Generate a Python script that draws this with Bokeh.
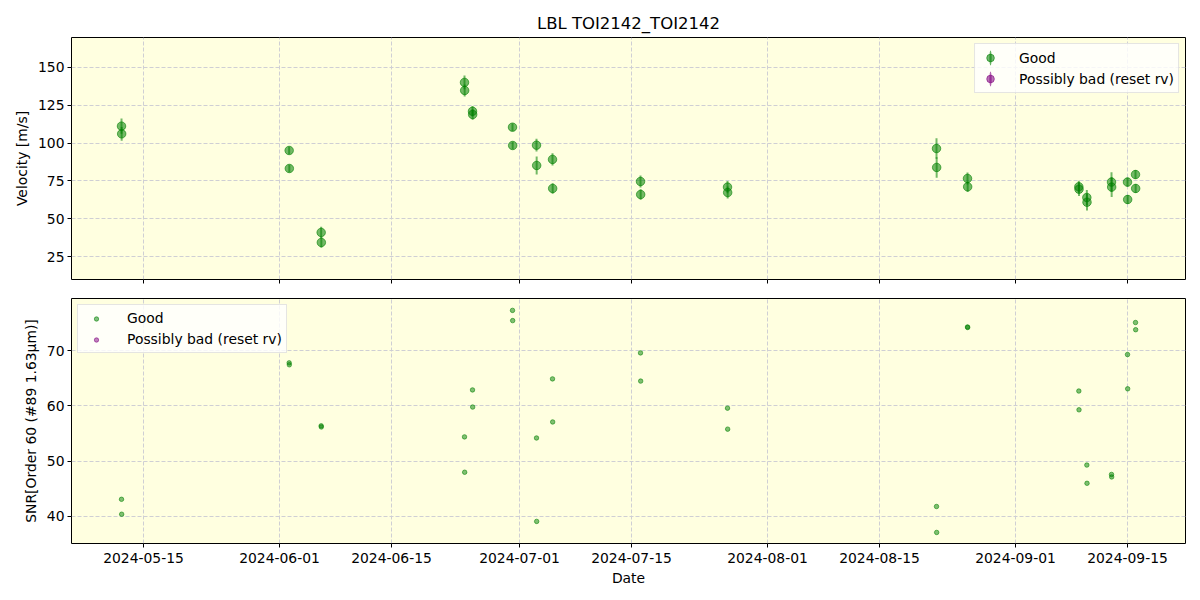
from bokeh.plotting import figure
from bokeh.models import (ColumnDataSource, Range1d, FixedTicker,
                          DatetimeTickFormatter, Legend, LegendItem)
from bokeh.layouts import column
from bokeh.embed import file_html
from bokeh.resources import INLINE
import pandas as pd

# ---------------- data ----------------
obs_time = [
    "2024-05-12 06:00", "2024-05-12 06:30",
    "2024-06-02 05:00", "2024-06-02 05:30",
    "2024-06-06 05:00", "2024-06-06 05:30",
    "2024-06-24 03:00", "2024-06-24 03:30",
    "2024-06-25 03:00", "2024-06-25 03:30",
    "2024-06-30 03:00", "2024-06-30 03:30",
    "2024-07-03 03:00", "2024-07-03 03:30",
    "2024-07-05 03:00", "2024-07-05 03:30",
    "2024-07-16 03:00", "2024-07-16 03:30",
    "2024-07-27 00:00", "2024-07-27 00:30",
    "2024-08-22 03:00", "2024-08-22 03:30",
    "2024-08-26 00:00", "2024-08-26 00:30",
    "2024-09-08 22:00", "2024-09-08 22:30",
    "2024-09-09 22:00", "2024-09-09 22:30",
    "2024-09-13 00:00", "2024-09-13 00:30",
    "2024-09-15 00:00", "2024-09-15 00:30",
    "2024-09-16 00:00", "2024-09-16 00:30",
]
velocity = [111.2, 106.1, 95.1, 83.2, 40.9, 34.3, 140.1, 134.8, 121.0, 118.9,
            110.5, 98.4, 98.6, 85.2, 89.2, 70.0, 74.6, 66.0, 70.9, 67.3,
            96.4, 83.9, 76.6, 71.1, 71.1, 69.5, 64.0, 60.9, 74.2, 70.9,
            74.2, 62.7, 79.2, 70.0]
velocity_err = [5.0, 4.5, 2.5, 2.5, 3.8, 3.5, 4.5, 4.0, 3.5, 3.5,
                2.5, 2.5, 4.2, 6.0, 4.0, 3.5, 4.0, 3.5, 4.0, 4.0,
                6.8, 6.8, 4.0, 3.5, 4.0, 4.5, 5.0, 5.5, 6.5, 6.5,
                3.0, 3.0, 3.0, 3.0]
snr = [43.1, 40.4, 67.8, 67.45, 56.4, 56.2, 54.4, 48.0, 62.9, 59.8,
       77.3, 75.45, 54.2, 39.1, 64.9, 57.1, 69.6, 64.5, 59.6, 55.8,
       41.8, 37.1, 74.3, 74.2, 62.7, 59.3, 49.3, 46.0, 47.6, 47.15,
       69.3, 63.1, 75.1, 73.8]

bad_time = []
bad_velocity = []
bad_velocity_err = []
bad_snr = []

date_ticks = ["2024-05-15", "2024-06-01", "2024-06-15", "2024-07-01",
              "2024-07-15", "2024-08-01", "2024-08-15", "2024-09-01",
              "2024-09-15"]
vel_ticks = [25, 50, 75, 100, 125, 150]
snr_ticks = [40, 50, 60, 70]

title_text = "LBL TOI2142_TOI2142"
vel_label = "Velocity [m/s]"
snr_label = "SNR[Order 60 (#89 1.63μm)]"
x_label = "Date"
good_label = "Good"
bad_label = "Possibly bad (reset rv)"

# ---------------- sources ----------------
good = ColumnDataSource(dict(
    t=pd.to_datetime(obs_time),
    v=velocity,
    lo=[v - e for v, e in zip(velocity, velocity_err)],
    hi=[v + e for v, e in zip(velocity, velocity_err)],
    snr=snr,
))
bad = ColumnDataSource(dict(
    t=pd.to_datetime(bad_time),
    v=bad_velocity,
    lo=[v - e for v, e in zip(bad_velocity, bad_velocity_err)],
    hi=[v + e for v, e in zip(bad_velocity, bad_velocity_err)],
    snr=bad_snr,
))
# legend-only proxy (NaN position, never drawn in the plot area)
NAN = float("nan")
proxy = ColumnDataSource(dict(t=[NAN], v=[NAN]))

FONT = "DejaVu Sans"
FS = "13.9px"
BG = "#FFFFE0"
GRID = "#cfcfd4"
GREEN = "green"
PURPLE = "purple"

tick_ms = [int(pd.Timestamp(d).value // 10**6) for d in date_ticks]
x_range = Range1d(pd.Timestamp("2024-05-06 00:00"), pd.Timestamp("2024-09-22 06:00"))
fmt = "%Y-%m-%d"
dt_formatter = DatetimeTickFormatter(
    milliseconds=fmt, seconds=fmt, minsec=fmt, minutes=fmt, hourmin=fmt,
    hours=fmt, days=fmt, months=fmt, years=fmt)


def style(p):
    p.background_fill_color = BG
    p.border_fill_color = "white"
    p.outline_line_color = "black"
    p.outline_line_width = 1
    for ax in (p.xaxis, p.yaxis):
        ax.axis_line_color = None
        ax.major_tick_in = 0
        ax.major_tick_out = 4
        ax.minor_tick_line_color = None
        ax.major_tick_line_color = "black"
        ax.major_label_text_font = FONT
        ax.major_label_text_font_size = FS
        ax.major_label_text_color = "black"
        ax.axis_label_text_font = FONT
        ax.axis_label_text_font_size = FS
        ax.axis_label_text_font_style = "normal"
        ax.axis_label_text_color = "black"
    p.xaxis.ticker = FixedTicker(ticks=tick_ms)
    p.xaxis.formatter = dt_formatter
    p.xaxis.major_label_standoff = 5
    p.yaxis.major_label_standoff = 3
    for g in (p.xgrid, p.ygrid):
        g.grid_line_color = GRID
        g.grid_line_dash = "4 2"
        g.grid_line_width = 1
    p.xgrid.ticker = FixedTicker(ticks=tick_ms)


def style_legend(lg, glyph_h, glyph_w):
    lg.label_text_font = FONT
    lg.label_text_font_size = FS
    lg.label_text_color = "black"
    lg.border_line_color = "#cccccc"
    lg.border_line_width = 1
    lg.background_fill_color = "white"
    lg.background_fill_alpha = 0.8
    lg.label_height = 18
    lg.glyph_height = glyph_h
    lg.glyph_width = glyph_w
    lg.spacing = 2
    lg.padding = 4
    lg.margin = 6
    lg.label_standoff = 18


# ---------------- top panel ----------------
p1 = figure(width=1192, height=288, x_axis_type="datetime", x_range=x_range,
            y_range=Range1d(9.8, 169.8), output_backend="svg",
            toolbar_location=None, min_border_left=71, min_border_right=7,
            min_border_top=37, min_border_bottom=9)
style(p1)
p1.title.text = title_text
p1.title.align = "center"
p1.title.text_font = FONT
p1.title.text_font_size = "16.5px"
p1.title.text_font_style = "normal"
p1.title.text_color = "black"
p1.yaxis.ticker = FixedTicker(ticks=vel_ticks)
p1.yaxis.axis_label = vel_label
# shared x axis: ticks only, labels not drawn
p1.xaxis.major_label_text_color = None
p1.xaxis.major_label_text_font_size = "1px"
p1.xaxis.major_label_standoff = 0

p1.segment(x0="t", y0="lo", x1="t", y1="hi", source=good,
           line_color=GREEN, line_alpha=0.55, line_width=2)
p1.scatter(x="t", y="v", source=good, size=8.5, marker="circle",
           fill_color=GREEN, line_color=GREEN, fill_alpha=0.55, line_alpha=0.6)
p1.segment(x0="t", y0="lo", x1="t", y1="hi", source=bad,
           line_color=PURPLE, line_alpha=0.55, line_width=2)
p1.scatter(x="t", y="v", source=bad, size=8.5, marker="circle",
           fill_color=PURPLE, line_color=PURPLE, fill_alpha=0.55, line_alpha=0.6)


def errbar_legend_glyphs(p, color):
    pt = p.scatter(x="t", y="v", source=proxy, size=8, marker="circle",
                   fill_color=color, line_color=color, fill_alpha=0.55, line_alpha=0.6)
    bar = p.ellipse(x="t", y="v", source=proxy, width=2, height=13,
                    width_units="screen", height_units="screen",
                    fill_color=color, fill_alpha=0.6, line_color=None)
    return [pt, bar]


lg1 = Legend(items=[LegendItem(label=good_label, renderers=errbar_legend_glyphs(p1, GREEN)),
                    LegendItem(label=bad_label, renderers=errbar_legend_glyphs(p1, PURPLE))],
             location="top_right")
style_legend(lg1, 19, 22)
p1.add_layout(lg1, "center")

# ---------------- bottom panel ----------------
p2 = figure(width=1192, height=300, x_axis_type="datetime", x_range=x_range,
            y_range=Range1d(35.1, 79.45), output_backend="svg",
            toolbar_location=None, min_border_left=71, min_border_right=7,
            min_border_top=10, min_border_bottom=10)
style(p2)
p2.yaxis.ticker = FixedTicker(ticks=snr_ticks)
p2.yaxis.axis_label = snr_label
p2.xaxis.axis_label = x_label
p2.xaxis.axis_label_standoff = 4

p2.scatter(x="t", y="snr", source=good, size=4.5, marker="circle",
           fill_color=GREEN, line_color=GREEN, fill_alpha=0.5, line_alpha=0.55)
p2.scatter(x="t", y="snr", source=bad, size=4.5, marker="circle",
           fill_color=PURPLE, line_color=PURPLE, fill_alpha=0.5, line_alpha=0.55)
l_good = p2.scatter(x="t", y="v", source=proxy, size=4.5, marker="circle",
                    fill_color=GREEN, line_color=GREEN, fill_alpha=0.5, line_alpha=0.55)
l_bad = p2.scatter(x="t", y="v", source=proxy, size=4.5, marker="circle",
                   fill_color=PURPLE, line_color=PURPLE, fill_alpha=0.5, line_alpha=0.55)
lg2 = Legend(items=[LegendItem(label=good_label, renderers=[l_good]),
                    LegendItem(label=bad_label, renderers=[l_bad])],
             location="top_left")
style_legend(lg2, 11, 28)
lg2.spacing = 3
lg2.label_standoff = 17
p2.add_layout(lg2, "center")

layout = column(p1, p2, spacing=0)
open("out.html", "w").write(file_html(layout, INLINE))
